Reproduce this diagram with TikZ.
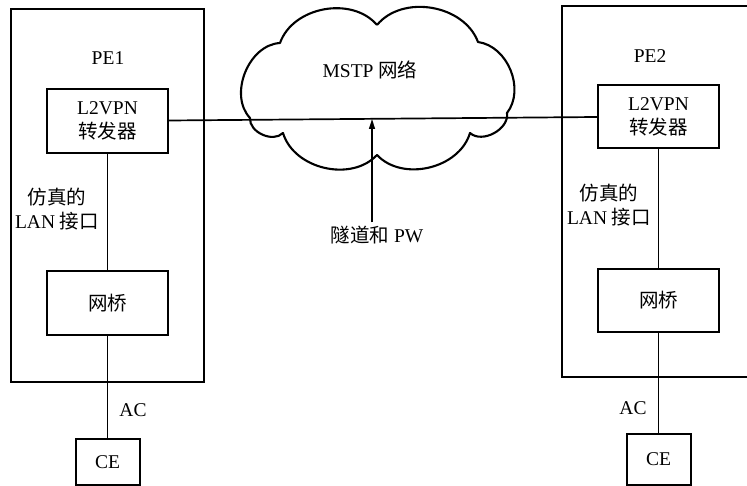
\documentclass[tikz,border=0pt]{standalone}
\usepackage{fontspec}
\setmainfont{Liberation Serif}
\newfontfamily\cjk{Noto Sans CJK SC}
\usetikzlibrary{positioning,arrows.meta}
\tikzset{
  pebox/.style={draw, line width=2.2pt, inner sep=0pt},
  unit/.style={draw, line width=2.2pt, minimum width=121pt, minimum height=64pt, align=center, inner sep=0pt},
  cebox/.style={draw, line width=2pt, minimum width=64pt, inner sep=0pt},
  lnk/.style={line width=1.7pt},
  sig/.style={-{Triangle[length=10pt,width=6pt]}, line width=1.5pt},
  txt/.style={align=center, inner sep=0pt},
  cloud/.style={line width=2.1pt, line join=round},
}

\begin{document}
\begin{tikzpicture}[x=1pt, y=-1pt, every node/.style={font=\fontsize{19.5}{24}\selectfont}]
  \useasboundingbox (0,0) rectangle (747,486);
  \clip (0,0) rectangle (747,486);

  % PE1
  \node[pebox, minimum width=193pt, minimum height=373pt] (pe1) at (107.5,195.5) {};
  \node (pe1lbl) at (108,58) {PE1};
  \node[unit] (fwd1) at (107.5,121) {L2VPN\\{\cjk 转发器}};
  \node[unit] (br1) at (107.5,303) {{\cjk 网桥}};
  \node[cebox, minimum height=46pt] (ce1) at (107.5,462) {CE};
  \node[txt] (emu1) at (57,209) {{\cjk 仿真的}\\LAN {\cjk 接口}};
  \node (ac1) at (133,410) {AC};

  % PE2 (right edge outside the page)
  \node[pebox, minimum width=208pt, minimum height=371pt] (pe2) at (666,191.5) {};
  \node (pe2lbl) at (650,56) {PE2};
  \node[unit, minimum height=63pt] (fwd2) at (658.5,116.5) {L2VPN\\{\cjk 转发器}};
  \node[unit, minimum height=63pt] (br2) at (658.5,300.5) {{\cjk 网桥}};
  \node[cebox, minimum height=51pt] (ce2) at (658.5,459.5) {CE};
  \node[txt] (emu2) at (609,205) {{\cjk 仿真的}\\LAN {\cjk 接口}};
  \node (ac2) at (633,408) {AC};

  % MSTP cloud
  \draw[cloud] (377,25) to[bend left=60] (478,42) to[bend left=60] (507,113)
    to[bend left=70] (470,133) to[bend left=60] (377,155) to[bend left=60] (283,133)
    to[bend left=70] (250,118) to[bend left=65] (280,43) to[bend left=60] (377,25);
  \node (mstp) at (370,70) {MSTP {\cjk 网络}};

  \draw[lnk] (fwd1) -- (br1);
  \draw[lnk] (br1) -- (ce1);
  \draw[lnk] (fwd2) -- (br2);
  \draw[lnk] (br2) -- (ce2);
  \draw[lnk] (fwd1) -- (fwd2);

  \coordinate (tip) at (372,119);
  \node (pw) at (377,235) {{\cjk 隧道和} PW};
  \draw[sig] (pw.north -| tip) -- (tip);
\end{tikzpicture}
\end{document}
